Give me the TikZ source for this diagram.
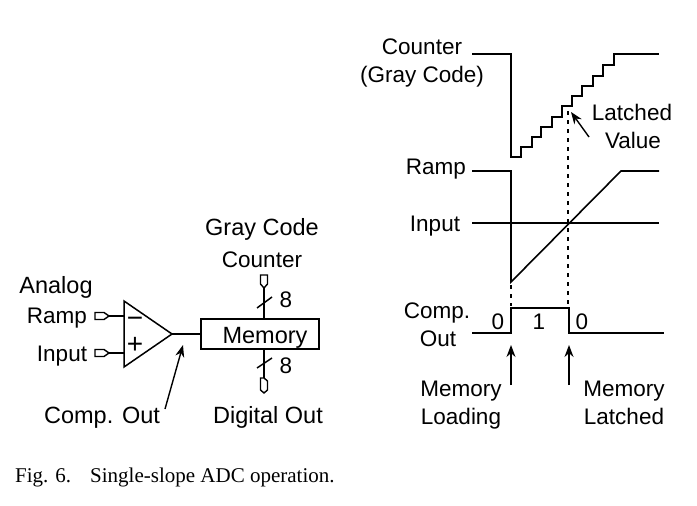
\documentclass[tikz,border=0pt]{standalone}
\usepackage{fontspec}
\setmainfont{Liberation Sans}
\newfontfamily\captionserif{Liberation Serif}
\usetikzlibrary{shapes.geometric,arrows.meta}
\tikzset{
  lbl/.style={inner sep=0pt,anchor=base,font=\fontsize{22.5}{26}\selectfont},
  lblwide/.style={lbl,font=\fontsize{23.5}{26}\selectfont},
  sign/.style={inner sep=0pt,font=\fontsize{28}{30}\selectfont},
  wire/.style={line width=1.5pt,line join=miter},
  wave/.style={line width=1.6pt,line join=miter},
  guide/.style={line width=1.5pt,dash pattern=on 4pt off 5pt},
  pointer/.style={line width=1.4pt,-{Stealth[length=12pt,width=9pt]}},
  pinbox/.style={line width=1.4pt,fill=white},
}
\begin{document}
\begin{tikzpicture}[x=1pt,y=-1pt]
        \useasboundingbox (0,0) rectangle (697,506);
        % Left part: comparator and memory
        \node[draw,wire,shape=isosceles triangle,isosceles triangle apex angle=69,isosceles triangle stretches,
              minimum width=66pt,minimum height=48pt,inner sep=0pt,outer sep=0pt,anchor=apex] (comp) at (172,334) {};
        \node[draw,wire,minimum width=118pt,minimum height=30pt,inner sep=0pt,outer sep=0pt] (mem) at (260,334) {};
        \node[lblwide] (memtxt) at (265,343) {Memory};
        \draw[wire] (comp.apex) -- (mem.west);

        \node[lblwide] (analog) at (56,293) {Analog};
        \node[lbl] (rampin) at (57,323) {Ramp};
        \node[lbl] (inputin) at (62,361) {Input};
        \node[sign] (minus) at (135,322) {−};
        \node[sign] (plus) at (135,345) {+};
        \node[lblwide] (grayin) at (262,235) {Gray Code};
        \node[lbl] (cntin) at (262,267) {Counter};
        \node[lblwide] (compout) at (102,423) {Comp. Out};
        \node[lblwide] (digout) at (268,423) {Digital Out};
        \node[lbl] (topbits) at (286,307) {8};
        \node[lbl] (botbits) at (286,373) {8};

        % Pins
        \draw[pinbox] (95,312.5) -- (104,312.5) -- (109,316) -- (104,319.5) -- (95,319.5) -- cycle;
        \draw[pinbox] (95,349.5) -- (104,349.5) -- (109,353) -- (104,356.5) -- (95,356.5) -- cycle;
        \draw[pinbox] (260.5,275) -- (267.5,275) -- (267.5,284) -- (264,288) -- (260.5,284) -- cycle;
        \draw[pinbox] (260.5,378) -- (264,378) -- (267.5,381) -- (267.5,390) -- (264,393) -- (260.5,390) -- cycle;
        \coordinate (rampend) at (109,316);
        \coordinate (inputend) at (109,353);
        \coordinate (rampbase) at (124,316);
        \coordinate (inputbase) at (124,353);
        \coordinate (topend) at (264,288);
        \coordinate (topmem) at (264,319);
        \coordinate (botend) at (264,378);
        \coordinate (botmem) at (264,349);
        \draw[wire] (rampend) -- (rampbase);
        \draw[wire] (inputend) -- (inputbase);
        \draw[wire] (topend) -- (topmem);
        \draw[wire] (botmem) -- (botend);
        \draw[wire] (257,308) -- (272,297);
        \draw[wire] (257,368) -- (272,358);
        \coordinate (compmark) at (183,345);
        \coordinate (compfoot) at (165,409);
        \draw[pointer] (compfoot) -- (compmark);

        % Right part: timing waveforms
        \node[lbl] (cnt) at (422,54) {Counter};
        \node[lbl] (gray) at (422,82) {(Gray Code)};
        \node[lbl] (ramp) at (436,174) {Ramp};
        \node[lbl] (input) at (435,231) {Input};
        \node[lbl] (cmp) at (437,318) {Comp.};
        \node[lbl] (out) at (438,346) {Out};
        \node[lbl] (latched) at (632,120) {Latched};
        \node[lbl] (value) at (633,148) {Value};
        \node[lbl] (bitA) at (498,329) {0};
        \node[lbl] (bitB) at (539,329) {1};
        \node[lbl] (bitC) at (582,329) {0};
        \node[lbl] (loadA) at (461,396) {Memory};
        \node[lbl] (loadB) at (461,424) {Loading};
        \node[lbl] (holdA) at (624,396) {Memory};
        \node[lbl] (holdB) at (624,424) {Latched};

        \draw[wave] (472,54) -- (511,54) -- (511,157) -- (521,157) -- (521,147) -- (532,147) -- (532,137)
            -- (541,137) -- (541,127) -- (552,127) -- (552,117) -- (562,117) -- (562,106) -- (572,106)
            -- (572,96) -- (582,96) -- (582,86) -- (593,86) -- (593,76) -- (603,76) -- (603,65) -- (614,65)
            -- (614,54) -- (659,54);
        \draw[wave] (472,171) -- (511,171) -- (511,282) -- (621,171) -- (659,171);
        \draw[wave] (472,223) -- (659,223);
        \draw[wave] (472,333) -- (511,333) -- (511,308) -- (569,308) -- (569,333) -- (664,333);

        \coordinate (latchtop) at (568,111);
        \coordinate (latchbot) at (568,306);
        \coordinate (loadtop) at (511,285);
        \coordinate (loadbot) at (511,306);
        \draw[guide] (latchtop) -- (latchbot);
        \draw[guide] (loadtop) -- (loadbot);

        \coordinate (latchfoot) at (589,137);
        \coordinate (latchtip) at (571,112);
        \coordinate (loadfoot) at (511,385);
        \coordinate (loadtip) at (511,345);
        \coordinate (holdfoot) at (569,385);
        \coordinate (holdtip) at (569,345);
        \draw[pointer] (latchfoot) -- (latchtip);
        \draw[pointer] (loadfoot) -- (loadtip);
        \draw[pointer] (holdfoot) -- (holdtip);

        \node[inner sep=0pt,anchor=base west,font=\captionserif\fontsize{21}{24}\selectfont] (cap) at (15,482) {Fig. 6.\hspace{19pt}Single-slope ADC operation.};
    \end{tikzpicture}
\end{document}
